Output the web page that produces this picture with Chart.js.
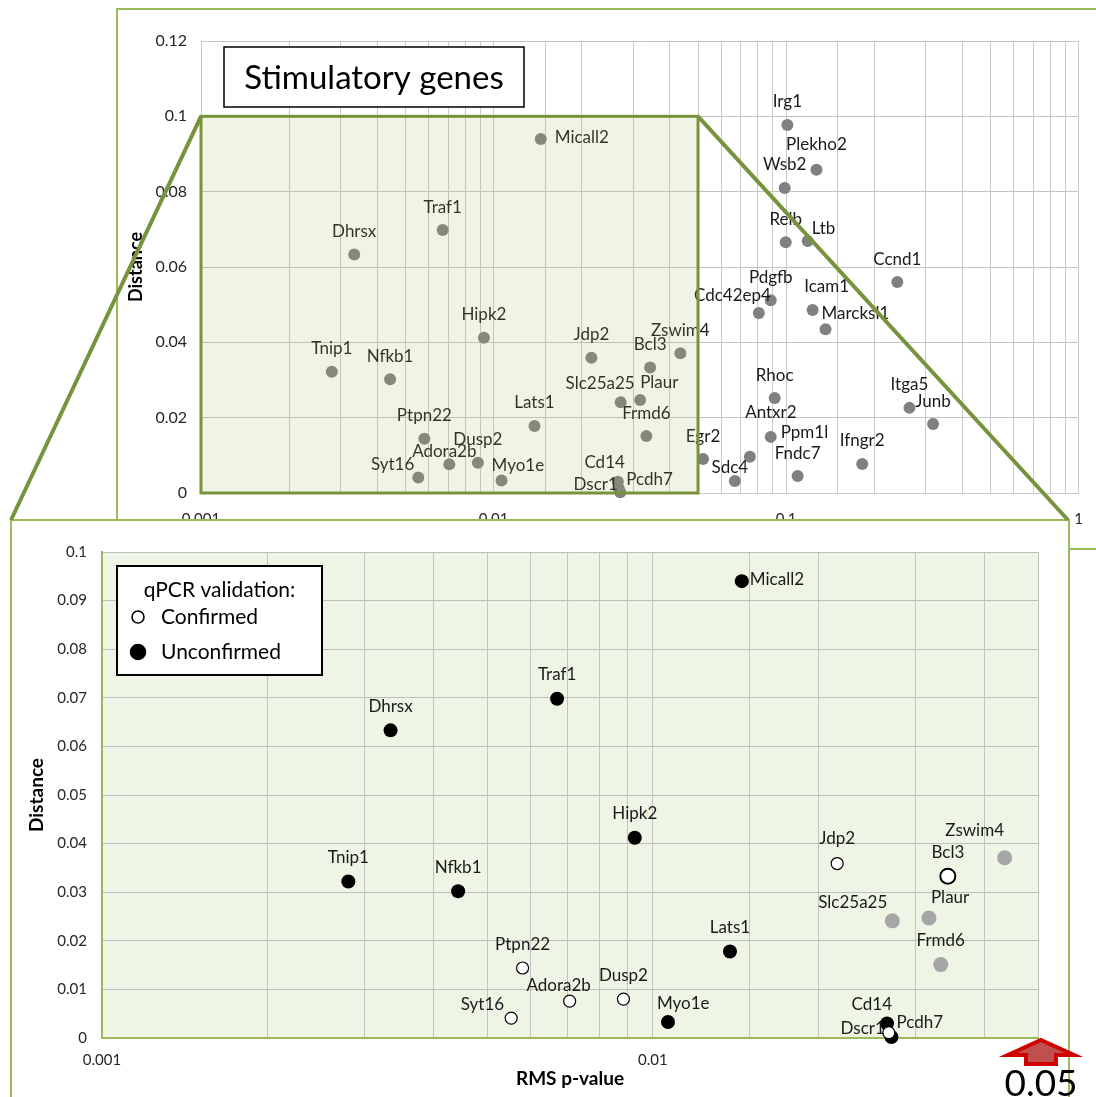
<!DOCTYPE html>
<html>
<head>
<meta charset="utf-8">
<script src="https://cdn.jsdelivr.net/npm/chart.js@4/dist/chart.umd.min.js"></script>
<style>
  html, body { margin: 0; padding: 0; background: #fff; }
  body { position: relative; width: 1096px; height: 1097px; overflow: hidden; }
  .frame { position: absolute; box-sizing: border-box; border: 2px solid #9bbb59; }
  canvas { position: absolute; }
</style>
</head>
<body>
<div class="frame" style="left:116px;top:8px;width:1000px;height:542px"></div>
<canvas id="overview" width="984" height="541" style="left:116px;top:8px"></canvas>
<div class="frame" id="zoomFrame" style="left:10px;top:519px;width:1060px;height:580px;background:#fff"></div>
<canvas id="detail" width="1086" height="578" style="left:10px;top:519px"></canvas>
<canvas id="links" width="1096" height="1097" style="left:0;top:0;pointer-events:none"></canvas>

<script>
// ---- data -------------------------------------------------------------
const genes = [
  'Micall2','Traf1','Dhrsx','Hipk2','Tnip1','Nfkb1','Jdp2','Zswim4','Bcl3','Slc25a25',
  'Plaur','Frmd6','Lats1','Ptpn22','Adora2b','Dusp2','Syt16','Myo1e','Cd14','Dscr1','Pcdh7',
  'Egr2','Sdc4','Antxr2','Ppm1l','Rhoc','Fndc7','Ifngr2','Itga5','Junb',
  'Irg1','Plekho2','Wsb2','Relb','Ltb','Ccnd1','Pdgfb','Cdc42ep4','Icam1','Marcksl1'
];
const rmsPValues = [
  0.0145, 0.0067, 0.00334, 0.00927, 0.0028, 0.00443, 0.0216, 0.0435, 0.0343, 0.0272,
  0.0317, 0.0333, 0.0138, 0.0058, 0.00706, 0.00884, 0.00553, 0.01065, 0.0266, 0.0268, 0.0271,
  0.052, 0.0668, 0.0752, 0.0886, 0.0914, 0.1095, 0.182, 0.264, 0.318,
  0.101, 0.127, 0.0989, 0.0997, 0.1185, 0.24, 0.0886, 0.0807, 0.1232, 0.1364
];
const distances = [
  0.094, 0.0698, 0.0633, 0.0412, 0.0322, 0.0302, 0.0359, 0.0371, 0.0333, 0.0241,
  0.0247, 0.0151, 0.0178, 0.0144, 0.0076, 0.0080, 0.0041, 0.0033, 0.0030, 0.0011, 0.0002,
  0.0090, 0.0032, 0.0096, 0.0149, 0.0252, 0.0045, 0.0077, 0.0226, 0.0183,
  0.0977, 0.0858, 0.0810, 0.0666, 0.0669, 0.0560, 0.0512, 0.0478, 0.0486, 0.0435
];
// qPCR validation of the genes inside the zoomed window
const qpcrGenes = [
  'Micall2','Traf1','Dhrsx','Hipk2','Tnip1','Nfkb1','Jdp2','Zswim4','Bcl3','Slc25a25',
  'Plaur','Frmd6','Lats1','Ptpn22','Adora2b','Dusp2','Syt16','Myo1e','Cd14','Dscr1','Pcdh7'
];
const qpcrStatus = [
  'Unconfirmed','Unconfirmed','Unconfirmed','Unconfirmed','Unconfirmed','Unconfirmed','Confirmed','Untested','Confirmed','Untested',
  'Untested','Untested','Unconfirmed','Confirmed','Confirmed','Confirmed','Confirmed','Unconfirmed','Unconfirmed','Confirmed','Unconfirmed'
];
const legendEntries = ['Confirmed', 'Unconfirmed'];
const zoomLimit = 0.05;            // upper p-value of the zoomed window
const zoomTop = 0.1;               // upper distance of the zoomed window
const decadeTicks = [0.001, 0.01, 0.1, 1];
const titleText = 'Stimulatory genes';
const legendTitle = 'qPCR validation:';

// ---- label placement (dx, dy, align) ---------------------------------
const overviewLabelAt = {
  Micall2: [14, -1, 'left'], Slc25a25: [14, -19, 'right'], Plaur: [0, -17, 'left'],
  Adora2b: [-5, -13], Syt16: [-4, -13, 'right'], Myo1e: [-10, -15, 'left'],
  Cd14: [7, -19, 'right'], Dscr1: [-1, -4, 'right'], Pcdh7: [6, -13, 'left'],
  Sdc4: [-5, -13], Antxr2: [21, -44], Ppm1l: [10, -4, 'left'],
  Cdc42ep4: [12, -17, 'right'], Marcksl1: [-4, -16, 'left'], Icam1: [14, -23],
  Ltb: [4, -12, 'left'], Plekho2: [0, -25]
};
const detailLabelAt = {
  Micall2: [8, -2, 'left'], Zswim4: [-30, -27], Slc25a25: [-5, -18, 'right'],
  Plaur: [2, -20, 'left'], Adora2b: [-11, -16], Syt16: [-7, -14, 'right'],
  Myo1e: [-11, -18, 'left'], Cd14: [5, -19, 'right'], Dscr1: [-4, -4, 'right'],
  Pcdh7: [5, -15, 'left'], Jdp2: [0, -25]
};

Chart.defaults.font.family = 'Lato, "Open Sans", sans-serif';
Chart.defaults.color = '#262626';
Chart.defaults.animation = false;

const allPoints = genes.map((g, i) => ({ x: rmsPValues[i], y: distances[i], gene: g }));
const statusOf = g => qpcrStatus[qpcrGenes.indexOf(g)];
const windowPoints = allPoints.filter(p => p.x <= zoomLimit && p.y <= zoomTop);

const decadeLabel = v => decadeTicks.some(d => Math.abs(Math.log10(v) - Math.log10(d)) < 1e-6) ? String(v) : '';
const cleanNum = v => String(+v.toFixed(3));

// gene names next to each point
const pointNames = {
  id: 'pointNames',
  afterDatasetsDraw(chart, args, opts) {
    const ctx = chart.ctx;
    ctx.save();
    ctx.font = opts.font;
    ctx.fillStyle = opts.color;
    ctx.textBaseline = 'middle';
    chart.data.datasets.forEach((ds, di) => {
      chart.getDatasetMeta(di).data.forEach((el, i) => {
        const name = ds.data[i].gene;
        const o = opts.offsets[name] || opts.fallback;
        ctx.textAlign = o[2] || 'center';
        ctx.fillText(name, el.x + o[0], el.y + o[1]);
      });
    });
    ctx.restore();
  }
};

// translucent window marking the zoomed range, plus the heading box
const overviewDecor = {
  id: 'overviewDecor',
  afterDraw(chart) {
    const { ctx, scales: { x, y }, chartArea } = chart;
    const x1 = x.getPixelForValue(0.001), x2 = x.getPixelForValue(zoomLimit);
    const y1 = y.getPixelForValue(zoomTop), y2 = y.getPixelForValue(0);
    ctx.save();
    ctx.fillStyle = 'rgba(155,187,89,0.16)';
    ctx.fillRect(x1, y1, x2 - x1, y2 - y1);
    ctx.strokeStyle = '#77933c';
    ctx.lineWidth = 3;
    ctx.strokeRect(x1, y1, x2 - x1, y2 - y1);

    const bx = chartArea.left + 23, by = chartArea.top + 6;
    ctx.fillStyle = '#fff';
    ctx.fillRect(bx, by, 300, 60);
    ctx.strokeStyle = '#000';
    ctx.lineWidth = 1.5;
    ctx.strokeRect(bx, by, 300, 60);
    ctx.fillStyle = '#000';
    ctx.font = '33px Lato, sans-serif';
    ctx.textAlign = 'center';
    ctx.textBaseline = 'middle';
    ctx.fillText(titleText, bx + 150, by + 31);
    ctx.restore();
  }
};

const overview = new Chart(document.getElementById('overview'), {
  type: 'scatter',
  data: {
    datasets: [{
      label: 'Genes',
      data: allPoints,
      pointRadius: 6,
      pointHoverRadius: 6,
      pointBackgroundColor: '#808080',
      pointBorderWidth: 0,
      clip: false
    }]
  },
  options: {
    responsive: false,
    devicePixelRatio: 1,
    layout: { padding: { left: 0, right: 14, top: 33, bottom: 0 } },
    plugins: {
      legend: { display: false },
      tooltip: { enabled: false },
      pointNames: { font: '17px Lato, sans-serif', color: '#1a1a1a', offsets: overviewLabelAt, fallback: [0, -23] }
    },
    scales: {
      x: {
        type: 'logarithmic', min: 0.001, max: 1,
        afterFit: s => { s.height = 56; },
        grid: { color: '#cacaca', drawTicks: false },
        border: { color: '#cacaca' },
        ticks: { autoSkip: false, maxRotation: 0, padding: 17, font: { size: 15 }, callback: decadeLabel }
      },
      y: {
        min: 0, max: 0.12,
        afterFit: s => { s.width = 85; },
        grid: { color: '#c4c4c4', drawTicks: false },
        border: { color: '#c4c4c4' },
        ticks: { stepSize: 0.02, padding: 14, font: { size: 16 }, callback: cleanNum },
        title: { display: true, text: 'Distance', color: '#000', font: { size: 18, weight: 'bold' }, padding: { top: 9, bottom: 0 } }
      }
    }
  },
  plugins: [pointNames, overviewDecor]
});

// ---- zoomed window ----------------------------------------------------
const styleFor = {
  Confirmed:   { bg: '#ffffff', border: '#000000', bw: 1.2, r: 6 },
  Unconfirmed: { bg: '#000000', border: '#000000', bw: 0,   r: 7 },
  Untested:    { bg: '#a6a6a6', border: '#a6a6a6', bw: 0,   r: 7.5 }
};
const emphasised = { Bcl3: { r: 7.5, bw: 2 } };

const detailDecor = {
  id: 'detailDecor',
  beforeDraw(chart) {
    const { ctx, chartArea: a } = chart;
    ctx.save();
    ctx.fillStyle = '#eef5e4';
    ctx.fillRect(a.left, a.top, a.right - a.left, a.bottom - a.top);
    ctx.restore();
  },
  afterDraw(chart) {
    const { ctx, chartArea: a, scales: { x } } = chart;
    ctx.save();
    // legend
    const lx = a.left + 15, ly = a.top + 14, lw = 205, lh = 109;
    ctx.fillStyle = '#fff';
    ctx.fillRect(lx, ly, lw, lh);
    ctx.strokeStyle = '#000';
    ctx.lineWidth = 2;
    ctx.strokeRect(lx, ly, lw, lh);
    ctx.fillStyle = '#000';
    ctx.font = '21px Lato, sans-serif';
    ctx.textBaseline = 'middle';
    ctx.textAlign = 'center';
    ctx.fillText(legendTitle, lx + lw / 2, ly + 24);
    ctx.textAlign = 'left';
    legendEntries.forEach((name, i) => {
      const cy = ly + 51 + i * 35, st = styleFor[name];
      ctx.beginPath();
      ctx.arc(lx + 21, cy, name === 'Confirmed' ? 6 : 7.5, 0, Math.PI * 2);
      ctx.fillStyle = st.bg;
      ctx.fill();
      ctx.lineWidth = 1.6;
      ctx.strokeStyle = '#000';
      ctx.stroke();
      ctx.fillStyle = '#000';
      ctx.fillText(name, lx + 44, cy);
    });

    // arrow marking the upper p-value bound
    const tx = x.getPixelForValue(zoomLimit) + 3, ty = a.bottom + 2;
    ctx.beginPath();
    ctx.moveTo(tx, ty);
    ctx.lineTo(tx + 33, ty + 15);
    ctx.lineTo(tx + 15, ty + 15);
    ctx.lineTo(tx + 15, ty + 24);
    ctx.lineTo(tx - 15, ty + 24);
    ctx.lineTo(tx - 15, ty + 15);
    ctx.lineTo(tx - 33, ty + 15);
    ctx.closePath();
    ctx.fillStyle = '#c0504d';
    ctx.fill();
    ctx.lineJoin = 'miter';
    ctx.strokeStyle = '#d10000';
    ctx.lineWidth = 4;
    ctx.stroke();

    ctx.fillStyle = '#000';
    ctx.font = '37px Lato, sans-serif';
    ctx.textAlign = 'center';
    ctx.textBaseline = 'alphabetic';
    ctx.fillText(String(zoomLimit), tx, a.bottom + 58);
    ctx.restore();
  }
};

const groups = ['Confirmed', 'Unconfirmed', 'Untested'];
const detail = new Chart(document.getElementById('detail'), {
  type: 'scatter',
  data: {
    datasets: groups.map(status => {
      const st = styleFor[status];
      const pts = windowPoints.filter(p => statusOf(p.gene) === status);
      return {
        label: status,
        data: pts,
        clip: false,
        pointRadius: ctx => (emphasised[pts[ctx.dataIndex]?.gene] || st).r,
        pointHoverRadius: ctx => (emphasised[pts[ctx.dataIndex]?.gene] || st).r,
        pointBorderWidth: ctx => (emphasised[pts[ctx.dataIndex]?.gene] || st).bw,
        pointBackgroundColor: st.bg,
        pointBorderColor: st.border
      };
    })
  },
  options: {
    responsive: false,
    devicePixelRatio: 1,
    layout: { padding: { left: 0, right: 58, top: 33, bottom: 0 } },
    plugins: {
      legend: { display: false },
      tooltip: { enabled: false },
      pointNames: { font: '17px Lato, sans-serif', color: '#1a1a1a', offsets: detailLabelAt, fallback: [0, -24] }
    },
    scales: {
      x: {
        type: 'logarithmic', min: 0.001, max: zoomLimit,
        afterFit: s => { s.height = 59; },
        grid: { color: '#c2c2c2', drawTicks: false },
        border: { color: '#9bbb59', width: 2 },
        ticks: { autoSkip: false, maxRotation: 0, padding: 13, font: { size: 15 }, callback: decadeLabel },
        title: { display: true, text: 'RMS p-value', color: '#000', font: { size: 19, weight: 'bold' }, padding: { top: 0, bottom: 7 } }
      },
      y: {
        min: 0, max: zoomTop,
        afterFit: s => { s.width = 92; },
        grid: { color: '#bdbdbd', drawTicks: false },
        border: { color: '#9bbb59', width: 2 },
        ticks: { stepSize: 0.01, padding: 15, font: { size: 15 }, callback: cleanNum },
        title: { display: true, text: 'Distance', color: '#000', font: { size: 19, weight: 'bold' }, padding: { top: 15, bottom: 0 } }
      }
    }
  },
  plugins: [pointNames, detailDecor]
});

// ---- connector lines from the window to the zoomed panel ----------------
(function drawLinks() {
  const ov = document.getElementById('overview');
  const frame = document.getElementById('zoomFrame');
  const ox = ov.offsetLeft, oy = ov.offsetTop;
  const xs = overview.scales.x, ys = overview.scales.y;
  const fx1 = frame.offsetLeft + 1, fx2 = frame.offsetLeft + frame.offsetWidth - 2, fy = frame.offsetTop + 1;
  const ctx = document.getElementById('links').getContext('2d');
  ctx.strokeStyle = '#77933c';
  ctx.lineWidth = 4;
  ctx.lineCap = 'butt';
  ctx.beginPath();
  ctx.moveTo(ox + xs.getPixelForValue(0.001), oy + ys.getPixelForValue(zoomTop));
  ctx.lineTo(fx1, fy);
  ctx.moveTo(ox + xs.getPixelForValue(zoomLimit), oy + ys.getPixelForValue(zoomTop));
  ctx.lineTo(fx2, fy);
  ctx.stroke();
})();
</script>
</body>
</html>
